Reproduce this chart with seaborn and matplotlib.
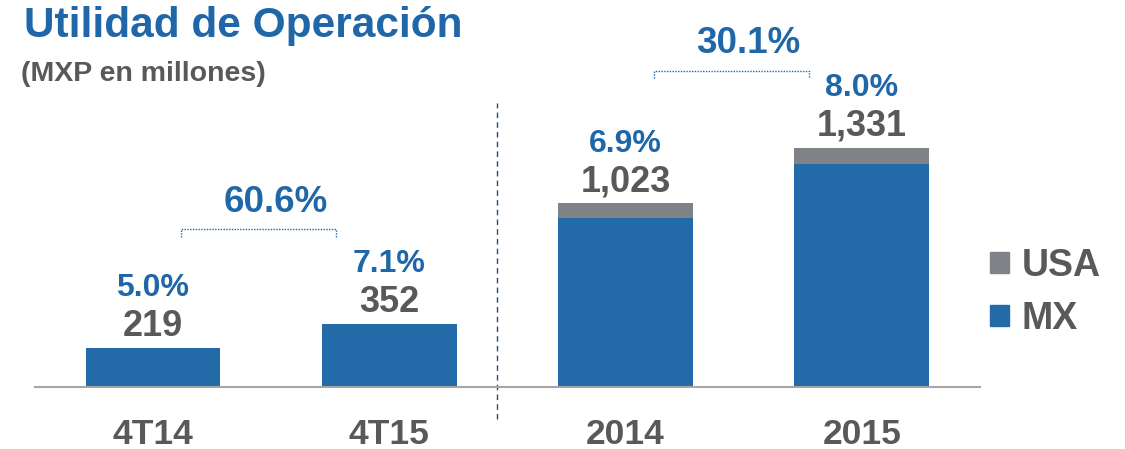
import matplotlib
matplotlib.use("Agg")
import matplotlib.pyplot as plt
import seaborn as sns
import pandas as pd
from matplotlib.patches import Patch

periods = ["4T14", "4T15", "2014", "2015"]
mx = [219, 352, 940, 1244]
usa = [0, 0, 83, 87]
totals = ["219", "352", "1,023", "1,331"]
margins = ["5.0%", "7.1%", "6.9%", "8.0%"]
growth = ["60.6%", "30.1%"]

blue = "#236BA8"
gray = "#7F8286"
txt_blue = "#1F67A8"
txt_gray = "#595959"

sns.set_style("white")
plt.rcParams["font.family"] = ["Liberation Sans", "DejaVu Sans"]

df = pd.DataFrame({"periodo": periods, "MX": mx, "USA": usa})
df["total"] = df["MX"] + df["USA"]

fig = plt.figure(figsize=(11.25, 4.49), dpi=100)
ax = fig.add_axes([0.031, 0.138, 0.84, 0.80])

sns.barplot(data=df, x="periodo", y="total", color=gray, width=0.57, saturation=1,
            linewidth=0, ax=ax)
sns.barplot(data=df, x="periodo", y="MX", color=blue, width=0.57, saturation=1,
            linewidth=0, ax=ax)

ax.set_xlim(-0.5, 3.5)
ax.set_ylim(0, 2000)
ax.set_xlabel("")
ax.set_ylabel("")
ax.set_yticks([])
sns.despine(ax=ax, left=True, top=True, right=True)
ax.spines["bottom"].set_color("#A6A6A6")
ax.spines["bottom"].set_linewidth(1.5)
ax.tick_params(axis="x", length=0, pad=22)
for lab in ax.get_xticklabels():
    lab.set_fontsize(25.5)
    lab.set_fontweight("bold")
    lab.set_color(txt_gray)

for i, tot in enumerate(df["total"]):
    ax.annotate(totals[i], (i, tot), xytext=(0, 15.5), textcoords="offset points",
                ha="center", va="center", fontsize=26, fontweight="bold", color=txt_gray)
    ax.annotate(margins[i], (i, tot), xytext=(0, 43), textcoords="offset points",
                ha="center", va="center", fontsize=23, fontweight="bold", color=txt_blue)

# growth brackets
bracket_y = [878, 1761]
for (a, b), g, y_br in zip([(0, 1), (2, 3)], growth, bracket_y):
    x0, x1 = a + 0.12, b - 0.225
    ax.plot([x0, x0, x1, x1], [y_br - 40, y_br, y_br, y_br - 40], color=txt_blue,
            lw=1, ls=(0, (1, 1)), clip_on=False)
    ax.text(a + 0.52, y_br + 150, g, ha="center", va="center",
            fontsize=26.5, fontweight="bold", color=txt_blue, clip_on=False)

ax.plot([1.458, 1.458], [-180, 1580], color="#1F4E79", lw=1, ls=(0, (4, 3)), clip_on=False)

fig.text(0.021, 0.942, "Utilidad de Operación", fontsize=30.5, fontweight="bold",
         color=txt_blue, va="center")
fig.text(0.019, 0.835, "(MXP en millones)", fontsize=20.5, fontweight="bold",
         color=txt_gray, va="center")

handles = [Patch(color=gray, label="USA"), Patch(color=blue, label="MX")]
leg = fig.legend(handles=handles, loc="center left", bbox_to_anchor=(0.850, 0.349),
                 frameon=False, handlelength=0.5, handleheight=0.5, handletextpad=0.35,
                 labelspacing=0.45, prop={"size": 27, "weight": "bold"})
for t in leg.get_texts():
    t.set_color(txt_gray)

fig.savefig("out.png", dpi=100)
